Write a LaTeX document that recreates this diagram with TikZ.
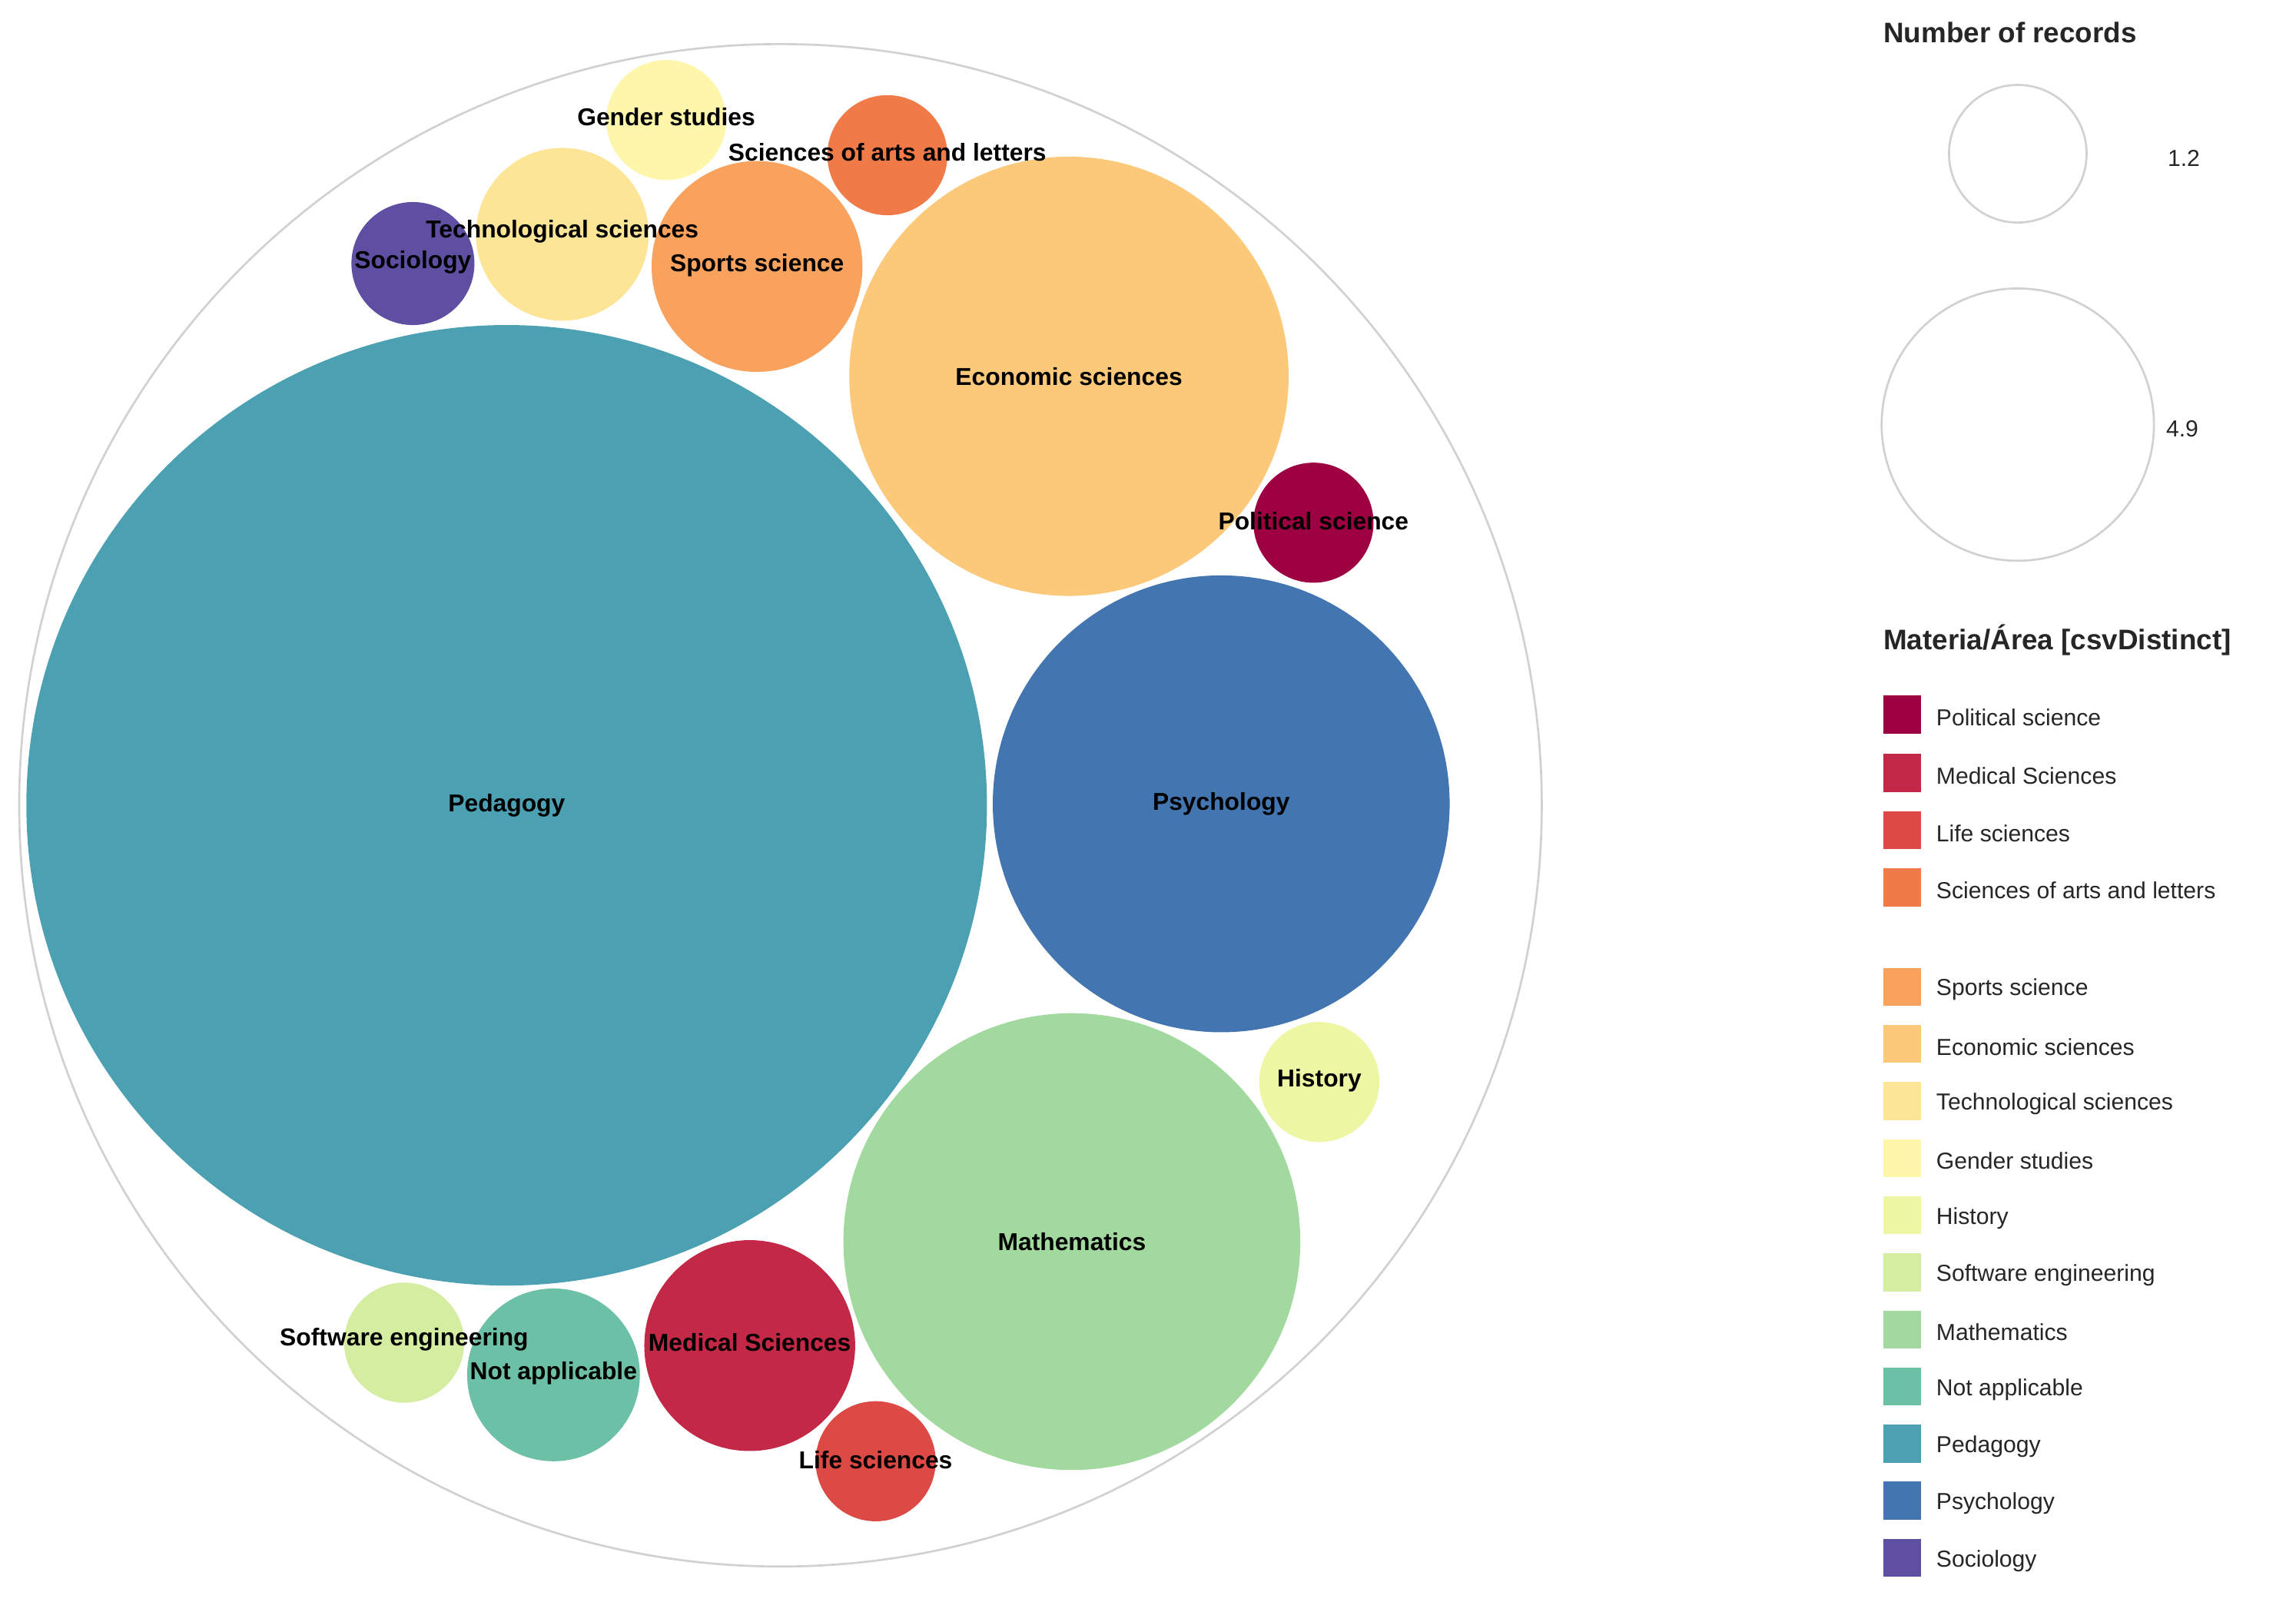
\documentclass[tikz,border=0pt]{standalone}
\usepackage{fontspec}
\setmainfont{Liberation Sans}
\definecolor{cPol}{HTML}{9E0142}
\definecolor{cMed}{HTML}{C42847}
\definecolor{cLife}{HTML}{DD4A45}
\definecolor{cArts}{HTML}{F07A48}
\definecolor{cSport}{HTML}{F9A25E}
\definecolor{cEco}{HTML}{FCC97A}
\definecolor{cTech}{HTML}{FDE597}
\definecolor{cGen}{HTML}{FEF6AA}
\definecolor{cHist}{HTML}{EDF7A3}
\definecolor{cSoft}{HTML}{D4EDA0}
\definecolor{cMath}{HTML}{A1D99F}
\definecolor{cNA}{HTML}{6CC0A5}
\definecolor{cPed}{HTML}{4BA0B1}
\definecolor{cPsy}{HTML}{4376B0}
\definecolor{cSoc}{HTML}{5E4FA2}
\tikzset{
  bub/.style={circle,inner sep=0pt,draw=none},
  lab/.style={font=\fontsize{9.5}{11}\selectfont\bfseries,text=black,inner sep=0pt},
  leg/.style={font=\fontsize{9}{11}\selectfont,anchor=west,inner sep=0pt,text=black!85},
  sw/.style={minimum size=0.52cm,inner sep=0pt,draw=none},
  ttl/.style={font=\fontsize{11}{13}\selectfont\bfseries,anchor=west,inner sep=0pt,text=black!85}
}
\begin{document}
\begin{tikzpicture}[x=0.02cm,y=-0.02cm]
\useasboundingbox (0,0) rectangle (1568,1094);
\fill[white] (0,0) rectangle (1568,1094);
\node[bub,draw=black!18,line width=0.8pt,minimum size=20.8cm] (outer) at (533,550) {};
\foreach \n/\x/\y/\r/\c in {ped/346/550/328/cPed, psy/834/549/156/cPsy, eco/730/257/150/cEco, mat/732/848/156/cMath, med/512/919/72/cMed, na/378/939/59/cNA, soft/276/917/41/cSoft, life/598/998/41/cLife, hist/901/739/41/cHist, pol/897/357/41/cPol, spo/517/182/72/cSport, art/606/106/41/cArts, gen/455/82/41/cGen, tech/384/160/59/cTech, soc/282/180/42/cSoc}
  \node[bub,fill=\c,minimum size=2*\r*0.02cm] (\n) at (\x,\y) {};
\node[lab] (tped) at (ped) {Pedagogy};
\node[lab] (tpsy) at (psy) {Psychology};
\node[lab] (teco) at (eco) {Economic sciences};
\node[lab] (tmat) at (mat) {Mathematics};
\node[lab] (tmed) at (512,917) {Medical Sciences};
\node[lab] (tna) at (378,938) {Not applicable};
\node[lab] (tsoft) at (276,915) {Software engineering};
\node[lab] (tlife) at (598,997) {Life sciences};
\node[lab] (thist) at (901,738) {History};
\node[lab] (tpol) at (897,356) {Political science};
\node[lab] (tspo) at (517,181) {Sports science};
\node[lab] (tart) at (606,104) {Sciences of arts and letters};
\node[lab] (tgen) at (455,80) {Gender studies};
\node[lab] (ttech) at (384,158) {Technological sciences};
\node[lab] (tsoc) at (282,179) {Sociology};
% legend
\node[ttl] (t1) at (1286,22) {Number of records};
\node[bub,draw=black!18,line width=0.8pt,minimum size=1.88cm] (s1) at (1378,105) {};
\node[bub,draw=black!18,line width=0.8pt,minimum size=3.72cm] (s2) at (1378,290) {};
\node[leg] (v1) at (1480,108) {1.2};
\node[leg] (v2) at (1479,293) {4.9};
\node[ttl] (t2) at (1286,437) {Materia/Área [csvDistinct]};
\foreach \i/\y/\c/\t in {1/488/cPol/Political science, 2/528/cMed/Medical Sciences, 3/567/cLife/Life sciences, 4/606/cArts/Sciences of arts and letters, 5/674/cSport/Sports science, 6/713/cEco/Economic sciences, 7/752/cTech/Technological sciences, 8/791/cGen/Gender studies, 9/830/cHist/History, 10/869/cSoft/Software engineering, 11/908/cMath/Mathematics, 12/947/cNA/Not applicable, 13/986/cPed/Pedagogy, 14/1025/cPsy/Psychology, 15/1064/cSoc/Sociology}{
  \node[sw,fill=\c] (sw\i) at (1299,\y) {};
  \node[leg] (lg\i) at (1322,\y+2) {\t};
}
\end{tikzpicture}
\end{document}
